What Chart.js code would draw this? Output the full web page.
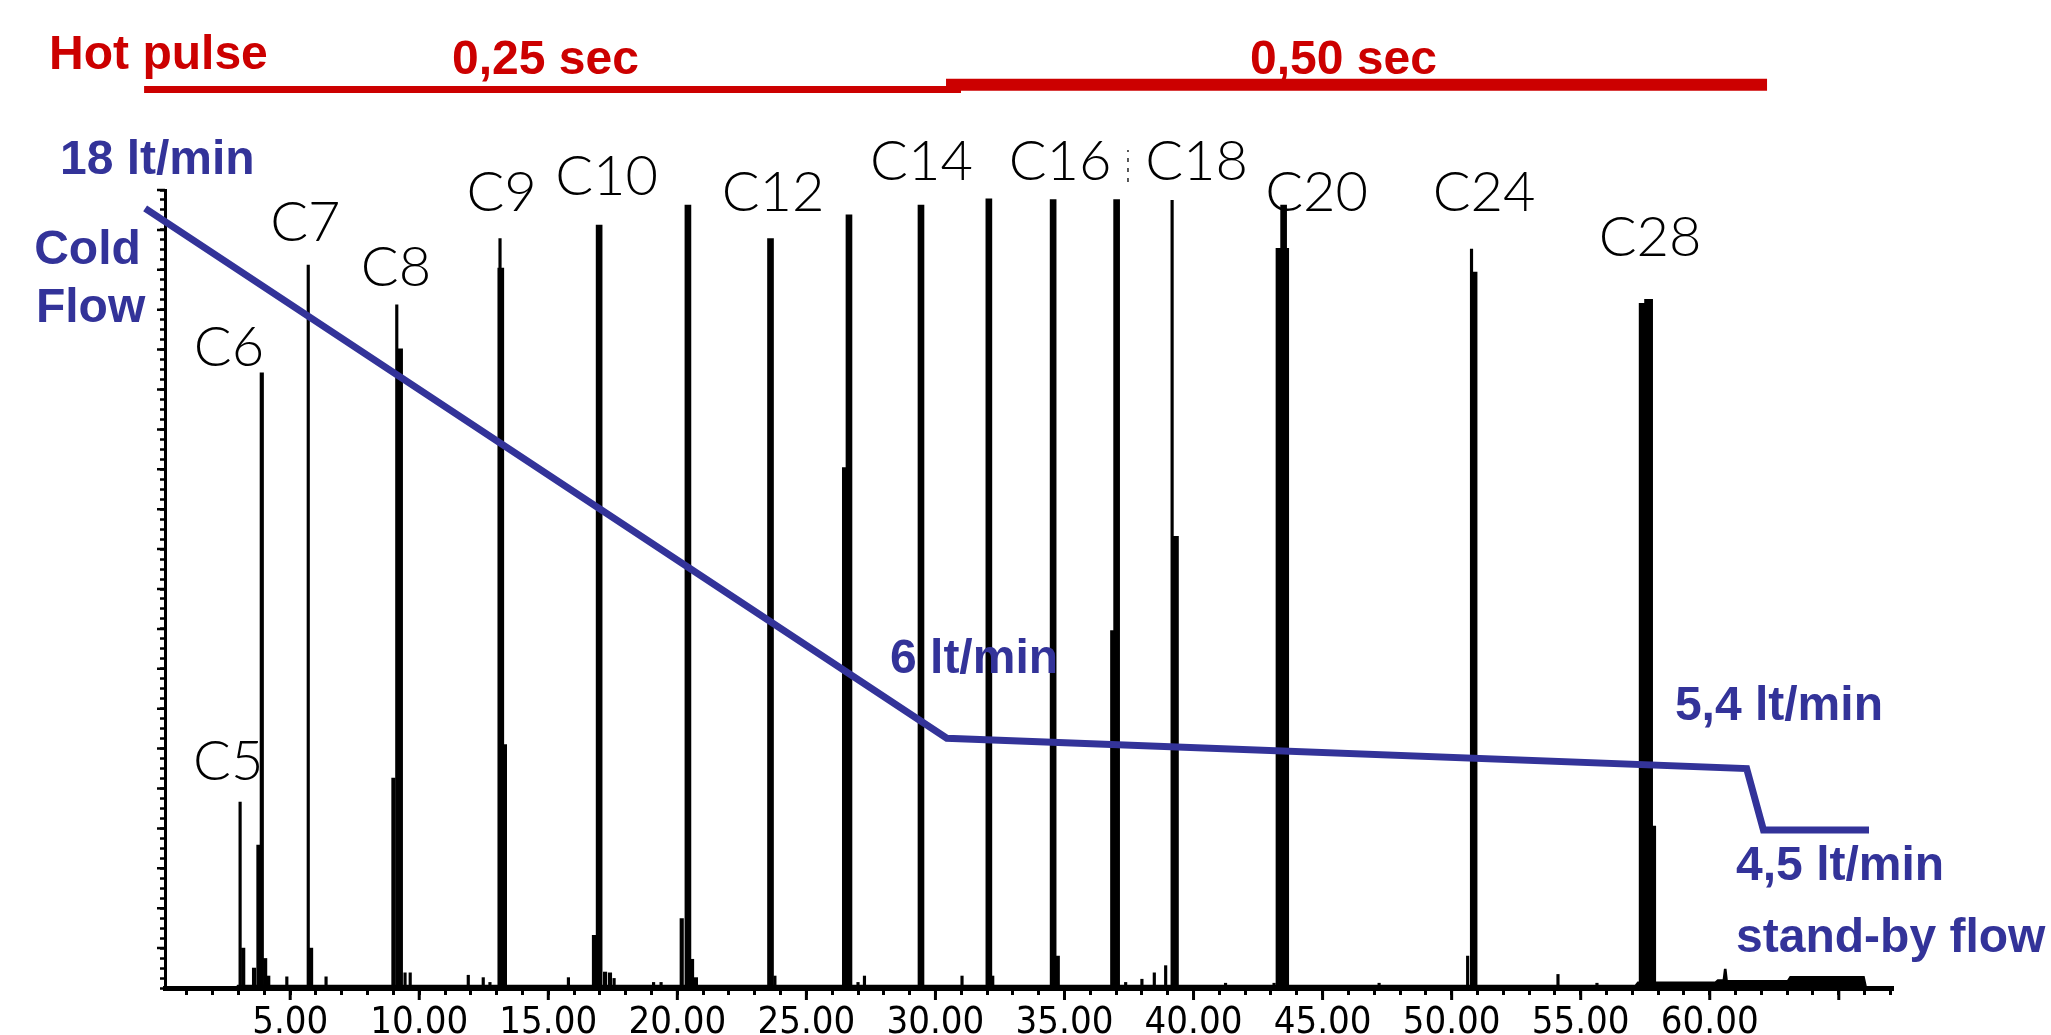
<!DOCTYPE html>
<html>
<head>
<meta charset="utf-8">
<title>Hot pulse / cold flow chromatogram</title>
<script src="https://cdn.jsdelivr.net/npm/chart.js@4.4.1/dist/chart.umd.min.js"></script>
<style>
  html, body { margin: 0; padding: 0; background: #fff; }
  #chart { display: block; }
</style>
</head>
<body>
<canvas id="chart" width="2051" height="1035"></canvas>
<script>
/* Chromatogram C5..C28 with the modulator flow programme drawn over it.
   x = retention time (min), y = signal in % of full scale. */

const RED = '#cc0000';
const BLUE = '#333399';

// x axis: labelled major ticks every 5 min
const xTickLabels = ['5.00', '10.00', '15.00', '20.00', '25.00', '30.00', '35.00', '40.00', '45.00', '50.00', '55.00', '60.00'];

// thin spikes: sharp peak tops and small noise peaks
const spikeTimes   = [3.06, 4.87, 5.70, 6.39, 9.13, 9.45, 9.65, 11.90, 12.48, 12.74, 13.13, 15.78, 17.55, 19.08, 19.37, 23.78, 27.00, 27.25, 31.03, 32.22, 37.37, 38.00, 38.48, 38.92, 39.17, 41.24, 43.12, 47.19, 50.62, 50.77, 54.12, 55.63];
const spikeHeights = [23.3, 1.4, 90.6, 1.4, 85.6, 1.9, 1.9, 1.6, 1.3, 0.7, 93.9, 1.3, 1.2, 0.7, 0.7, 1.5, 0.7, 1.5, 1.5, 1.5, 0.7, 1.1, 1.9, 2.8, 98.7, 0.6, 0.6, 0.6, 4.0, 92.6, 1.7, 0.6];

// slim peaks and shoulders
const slimTimes   = [3.18, 3.60, 3.77, 3.90, 4.03, 4.15, 5.81, 9.00, 13.32, 16.77, 17.20, 17.39, 20.17, 20.57, 20.72, 26.46, 34.74, 36.85, 43.62, 57.72, 57.84];
const slimHeights = [5.0, 2.5, 17.9, 77.1, 3.7, 1.5, 5.0, 26.3, 30.5, 6.6, 2.0, 1.9, 8.7, 3.6, 1.3, 65.2, 4.0, 44.8, 92.7, 86.3, 20.3];

// broad main peaks
const broadTimes   = [9.24, 13.16, 16.97, 20.41, 23.61, 26.65, 29.44, 32.07, 34.56, 37.02, 39.30, 43.31, 43.49, 50.87, 57.38, 57.59];
const broadHeights = [80.1, 90.2, 95.6, 98.1, 93.9, 96.9, 98.1, 98.9, 98.8, 98.8, 56.6, 92.7, 98.1, 89.7, 85.8, 86.3];

// baseline of the trace and the raised tail after C28
const traceTimes  = [2.86, 2.95, 57.1, 57.2, 60.2, 60.3, 60.5, 60.55, 60.65, 60.7, 63.0, 63.1, 66.0, 66.1];
const traceLevels = [0, 0.4, 0.4, 0.8, 0.8, 1.1, 1.1, 2.4, 2.4, 1.0, 1.0, 1.5, 1.5, 0];

// cold flow programme (18 -> 6 -> 5.4 -> 4.5 lt/min), drawn position on the plot
const flowTimes  = [-0.62, 30.44, 61.43, 62.08, 66.17];
const flowLevels = [97.7, 31.3, 27.5, 19.8, 19.8];

// hot pulse bars: 0,25 sec then 0,50 sec
const pulseShortTimes = [-0.66, 30.99];
const pulseShortLevel = 112.6;
const pulseLongTimes  = [30.41, 62.22];
const pulseLongLevel  = 113.2;

// small dotted mark between C16 and C18
const markTimes  = [37.46, 37.46];
const markLevels = [101.0, 105.0];

// peak names and where their labels sit (time, level of text baseline)
const peakNames       = ['C5', 'C6', 'C7', 'C8', 'C9', 'C10', 'C12', 'C14', 'C16', 'C18', 'C20', 'C24', 'C28'];
const peakLabelTimes  = [2.60, 2.63, 5.59, 9.10, 13.19, 17.26, 23.71, 29.46, 34.83, 40.12, 44.77, 51.26, 57.69];
const peakLabelLevels = [26.1, 77.9, 93.6, 88.0, 97.4, 99.4, 97.4, 101.3, 101.3, 101.3, 97.4, 97.4, 91.7];

// annotation texts (left aligned at time, baseline level)
const notes = [
  { text: 'Hot pulse',     t: -4.34, v: 115.2, color: RED },
  { text: '0,25 sec',      t: 11.27, v: 114.5, color: RED },
  { text: '0,50 sec',      t: 42.19, v: 114.5, color: RED },
  { text: '18 lt/min',     t: -3.92, v: 102.0, color: BLUE },
  { text: 'Cold',          t: -4.92, v: 90.7,  color: BLUE },
  { text: 'Flow',          t: -4.85, v: 83.5,  color: BLUE },
  { text: '6 lt/min',      t: 28.24, v: 39.5,  color: BLUE },
  { text: '5,4 lt/min',    t: 58.65, v: 33.6,  color: BLUE },
  { text: '4,5 lt/min',    t: 61.02, v: 13.5,  color: BLUE },
  { text: 'stand-by flow', t: 61.02, v: 4.5,   color: BLUE }
];

const pts = (xs, ys) => xs.map((x, i) => ({ x, y: Array.isArray(ys) ? ys[i] : ys }));

function barSet(xs, ys, thickness) {
  return {
    type: 'bar',
    data: pts(xs, ys),
    backgroundColor: '#000',
    borderWidth: 0,
    barThickness: thickness,
    stack: 'trace',
    order: 2
  };
}

function lineSet(xs, ys, color, width, extra) {
  return Object.assign({
    type: 'line',
    data: pts(xs, ys),
    borderColor: color,
    borderWidth: width,
    pointRadius: 0,
    tension: 0,
    fill: false,
    clip: false,
    borderCapStyle: 'butt',
    borderJoinStyle: 'miter',
    order: 1
  }, extra || {});
}

const overlay = {
  id: 'overlay',
  afterDatasetsDraw(chart) {
    const { ctx, scales: { x, y } } = chart;
    ctx.save();

    // long ticks
    ctx.strokeStyle = '#000';
    ctx.lineWidth = 3;
    ctx.beginPath();
    for (let t = 5; t <= 65; t += 5) {
      const px = x.getPixelForValue(t);
      ctx.moveTo(px, y.bottom);
      ctx.lineTo(px, y.bottom + 12);
    }
    ctx.stroke();
    ctx.lineWidth = 2.5;
    ctx.beginPath();
    for (let v = 5; v <= 100; v += 5) {
      const py = y.getPixelForValue(v);
      ctx.moveTo(x.left - 8, py);
      ctx.lineTo(x.left, py);
    }
    ctx.stroke();

    // peak labels
    ctx.fillStyle = '#000';
    ctx.textAlign = 'center';
    ctx.textBaseline = 'alphabetic';
    ctx.font = '300 56px Lato, "Noto Sans", sans-serif';
    peakNames.forEach((name, i) => {
      ctx.fillText(name, x.getPixelForValue(peakLabelTimes[i]), y.getPixelForValue(peakLabelLevels[i]));
    });

    // flow and pulse notes
    ctx.textAlign = 'left';
    ctx.font = 'bold 48px "Liberation Sans", Arial, sans-serif';
    notes.forEach(n => {
      ctx.fillStyle = n.color;
      ctx.fillText(n.text, x.getPixelForValue(n.t), y.getPixelForValue(n.v));
    });
    ctx.restore();
  }
};

new Chart(document.getElementById('chart'), {
  type: 'bar',
  data: {
    datasets: [
      lineSet(pulseShortTimes, pulseShortLevel, RED, 7),
      lineSet(pulseLongTimes, pulseLongLevel, RED, 12),
      lineSet(flowTimes, flowLevels, BLUE, 7),
      lineSet(markTimes, markLevels, '#222', 1.5, { borderDash: [4, 6] }),
      lineSet(traceTimes, traceLevels, '#000', 0, { fill: 'origin', backgroundColor: '#000', clip: undefined, order: 3 }),
      barSet(broadTimes, broadHeights, 6),
      barSet(slimTimes, slimHeights, 3.5),
      barSet(spikeTimes, spikeHeights, 2.5)
    ]
  },
  options: {
    responsive: false,
    devicePixelRatio: 1,
    animation: false,
    layout: { padding: { left: 155, right: 158, top: 190, bottom: 0 } },
    plugins: { legend: { display: false }, tooltip: { enabled: false } },
    scales: {
      x: {
        type: 'linear',
        min: 0.15,
        max: 67.1,
        offset: false,
        border: { display: true, color: '#000', width: 5 },
        grid: { drawOnChartArea: false, offset: false, tickLength: 7, tickWidth: 3, tickColor: '#000' },
        ticks: {
          stepSize: 1,
          includeBounds: false,
          autoSkip: false,
          maxRotation: 0,
          minRotation: 0,
          padding: 5,
          color: '#000',
          font: { family: '"Liberation Sans Narrow", "DejaVu Sans Condensed", "Liberation Sans", sans-serif', size: 38 },
          callback: v => {
            const label = (Math.abs(v % 5) < 1e-6) ? v.toFixed(2) : '';
            return xTickLabels.includes(label) ? label : '';
          }
        },
        afterFit: s => { s.height = 47; }
      },
      y: {
        type: 'linear',
        min: 0,
        max: 100,
        stacked: false,
        border: { display: true, color: '#000', width: 3 },
        grid: { drawOnChartArea: false, tickLength: 5, tickWidth: 2.5, tickColor: '#000' },
        ticks: { display: false, stepSize: 1.25 },
        afterFit: s => { s.width = 10; }
      }
    }
  },
  plugins: [overlay]
});
</script>
</body>
</html>
